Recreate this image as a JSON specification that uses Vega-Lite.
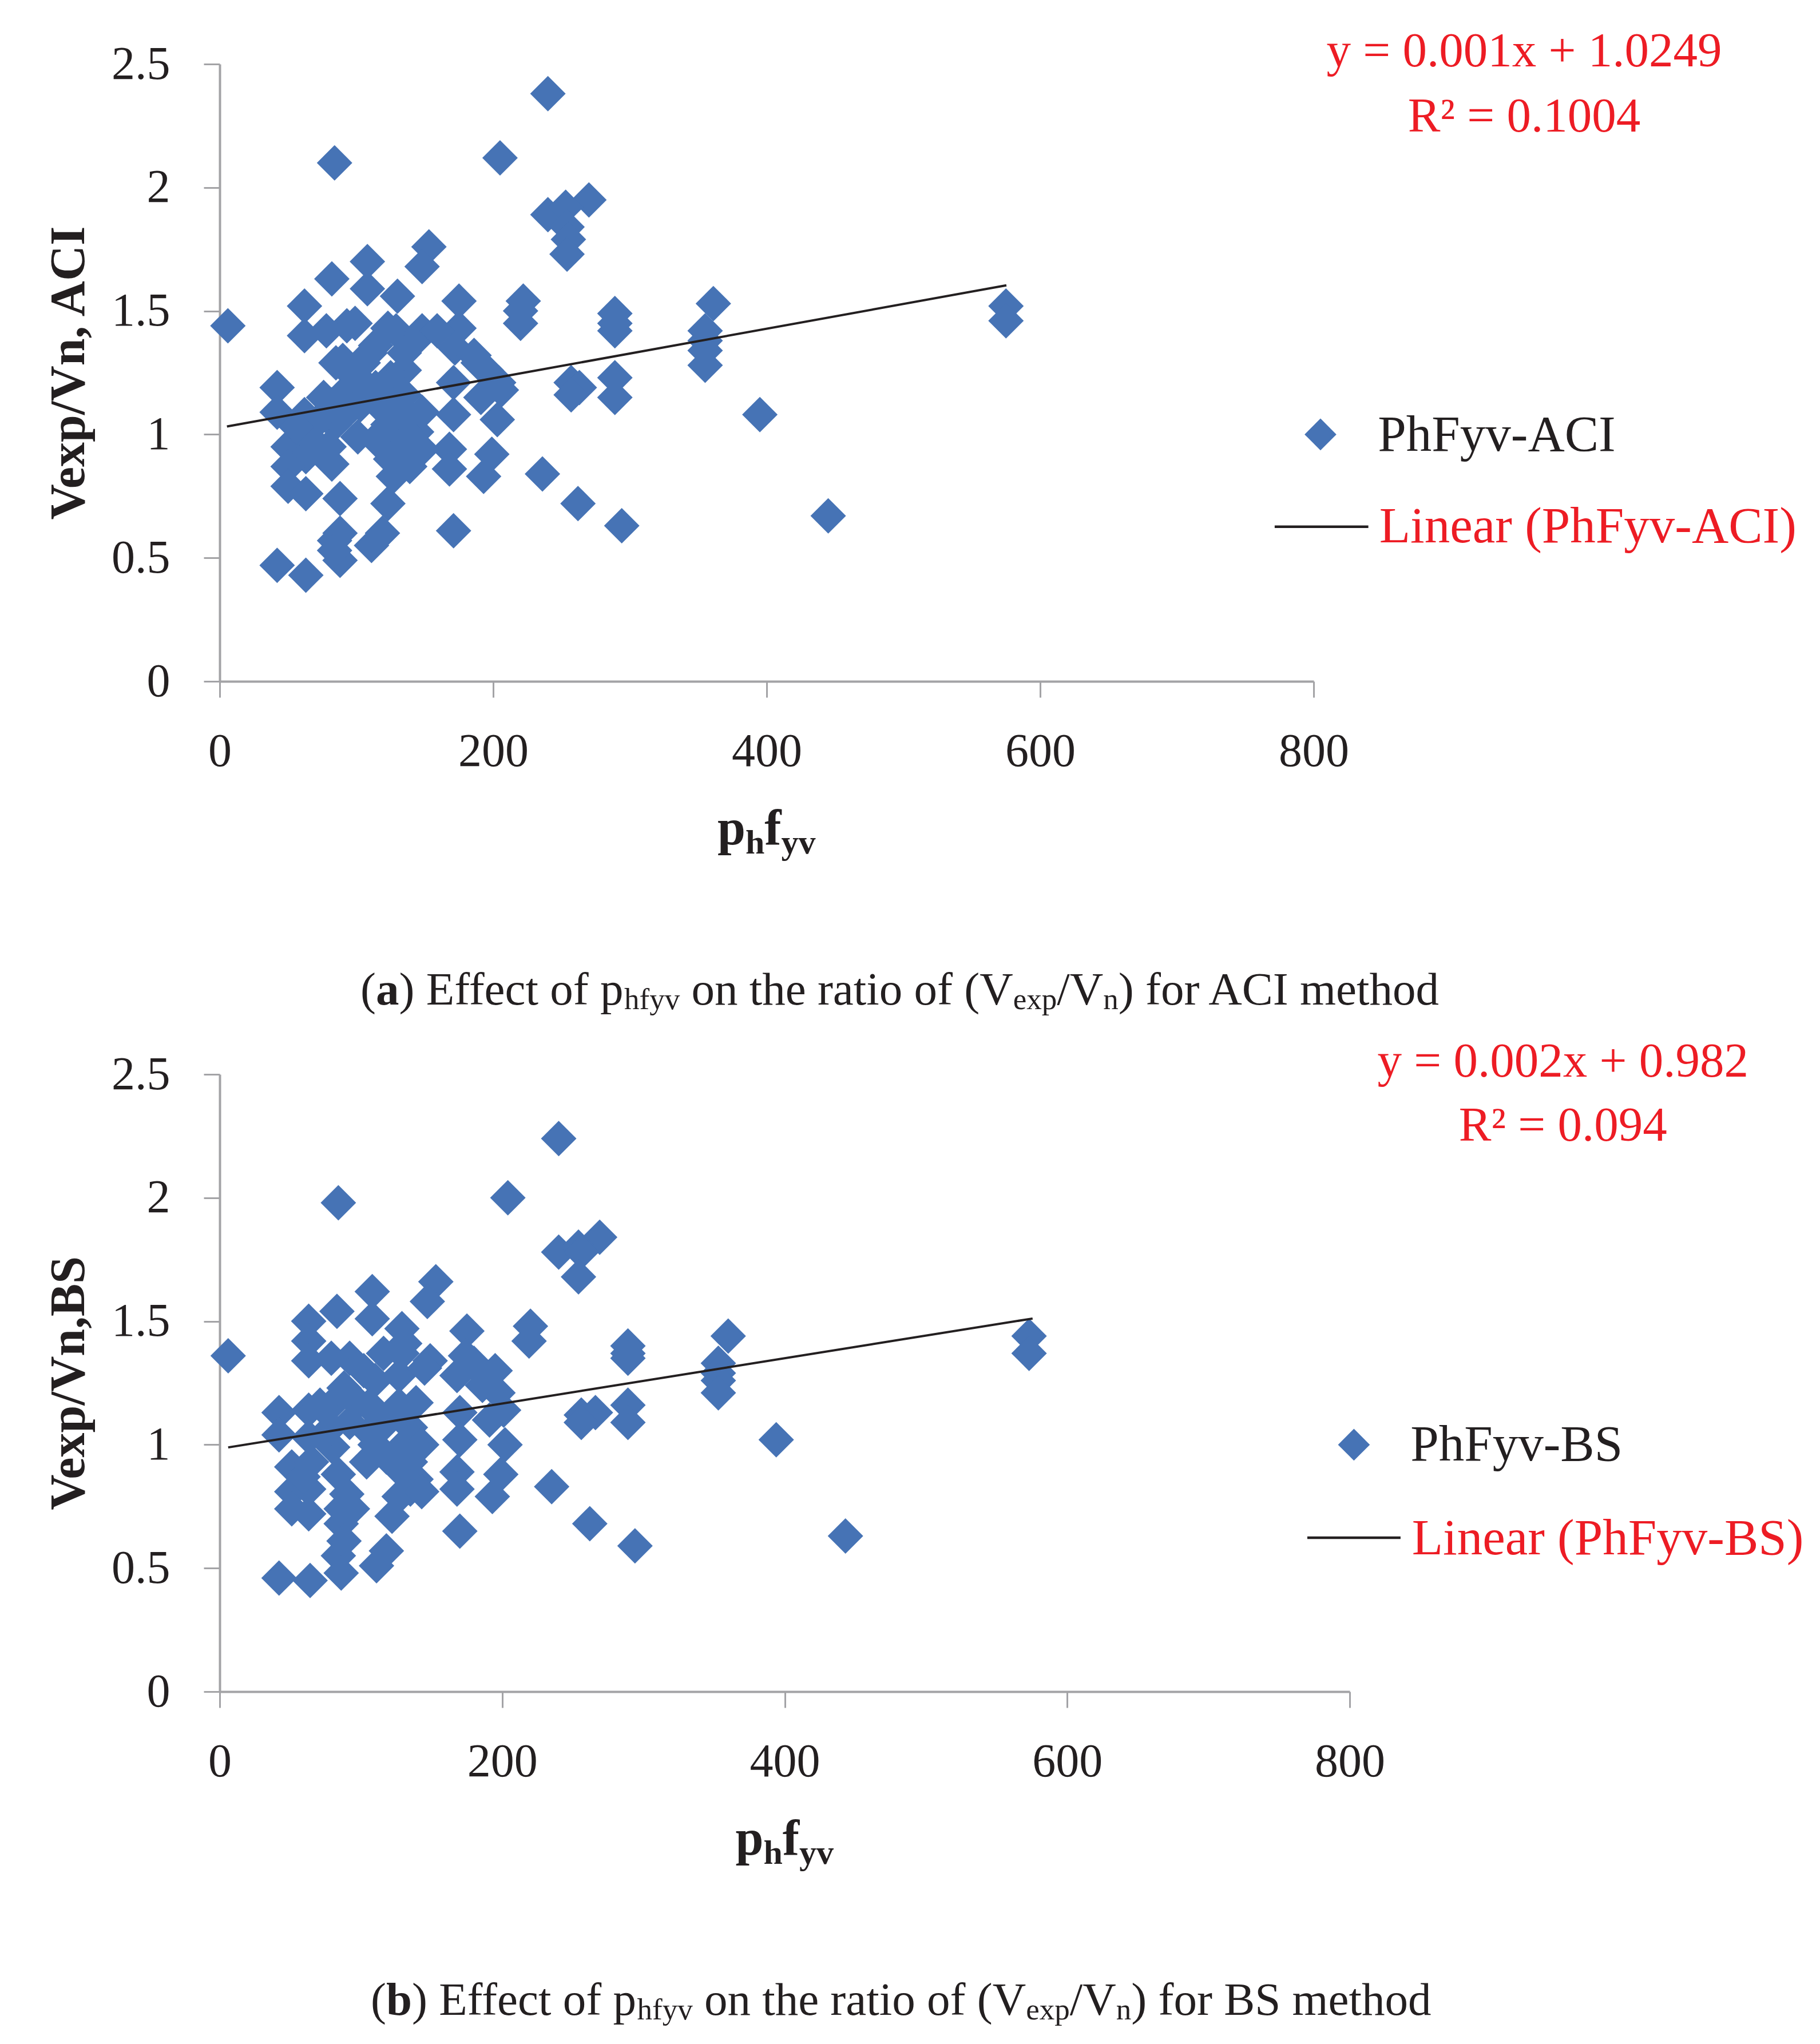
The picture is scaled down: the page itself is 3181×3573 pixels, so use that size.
{
  "$schema": "https://vega.github.io/schema/vega-lite/v6.json",
  "background": "white",
  "padding": {"left": 76, "top": 47, "right": 10, "bottom": 10},
  "autosize": {"type": "pad"},
  "spacing": 687,
  "bounds": "flush",
  "config": {
    "view": {"stroke": null},
    "font": "Liberation Serif",
    "text": {"font": "Liberation Serif"},
    "axis": {
      "grid": false,
      "labelFont": "Liberation Serif",
      "labelFontSize": 82,
      "labelColor": "#231F20",
      "labelFlush": false,
      "labelOverlap": false,
      "domainColor": "#A3A3A6",
      "domainWidth": 4,
      "tickColor": "#A3A3A6",
      "tickWidth": 3,
      "tickSize": 28,
      "titleFont": "Liberation Serif",
      "titleFontSize": 86,
      "titleFontWeight": "bold",
      "titleColor": "#231F20"
    }
  },
  "datasets": {
    "aci": [
      {"phfyv": 6, "ratio": 1.44}, {"phfyv": 84, "ratio": 2.10}, {"phfyv": 240, "ratio": 2.38}, {"phfyv": 205, "ratio": 2.12},
      {"phfyv": 270, "ratio": 1.95}, {"phfyv": 240, "ratio": 1.89}, {"phfyv": 253, "ratio": 1.92}, {"phfyv": 254, "ratio": 1.84},
      {"phfyv": 255, "ratio": 1.79}, {"phfyv": 254, "ratio": 1.73}, {"phfyv": 153, "ratio": 1.76}, {"phfyv": 148, "ratio": 1.68},
      {"phfyv": 108, "ratio": 1.70}, {"phfyv": 108, "ratio": 1.59}, {"phfyv": 82, "ratio": 1.63}, {"phfyv": 62, "ratio": 1.52},
      {"phfyv": 62, "ratio": 1.40}, {"phfyv": 130, "ratio": 1.56}, {"phfyv": 175, "ratio": 1.54}, {"phfyv": 222, "ratio": 1.54},
      {"phfyv": 220, "ratio": 1.50}, {"phfyv": 220, "ratio": 1.45}, {"phfyv": 289, "ratio": 1.49}, {"phfyv": 289, "ratio": 1.45},
      {"phfyv": 289, "ratio": 1.42}, {"phfyv": 93, "ratio": 1.44}, {"phfyv": 78, "ratio": 1.42}, {"phfyv": 129, "ratio": 1.42},
      {"phfyv": 148, "ratio": 1.42}, {"phfyv": 175, "ratio": 1.43}, {"phfyv": 145, "ratio": 1.39}, {"phfyv": 85, "ratio": 1.29},
      {"phfyv": 110, "ratio": 1.33}, {"phfyv": 172, "ratio": 1.35}, {"phfyv": 186, "ratio": 1.32}, {"phfyv": 125, "ratio": 1.23},
      {"phfyv": 135, "ratio": 1.26}, {"phfyv": 195, "ratio": 1.26}, {"phfyv": 204, "ratio": 1.21}, {"phfyv": 257, "ratio": 1.21},
      {"phfyv": 263, "ratio": 1.19}, {"phfyv": 257, "ratio": 1.16}, {"phfyv": 289, "ratio": 1.23}, {"phfyv": 289, "ratio": 1.15},
      {"phfyv": 42, "ratio": 1.19}, {"phfyv": 42, "ratio": 1.09}, {"phfyv": 62, "ratio": 1.08}, {"phfyv": 76, "ratio": 1.15},
      {"phfyv": 93, "ratio": 1.18}, {"phfyv": 103, "ratio": 1.22}, {"phfyv": 116, "ratio": 1.12}, {"phfyv": 135, "ratio": 1.16},
      {"phfyv": 139, "ratio": 1.07}, {"phfyv": 171, "ratio": 1.21}, {"phfyv": 171, "ratio": 1.08}, {"phfyv": 191, "ratio": 1.15},
      {"phfyv": 203, "ratio": 1.06}, {"phfyv": 84, "ratio": 1.04}, {"phfyv": 101, "ratio": 0.99}, {"phfyv": 123, "ratio": 1.04},
      {"phfyv": 144, "ratio": 1.01}, {"phfyv": 50, "ratio": 0.95}, {"phfyv": 63, "ratio": 0.91}, {"phfyv": 50, "ratio": 0.87},
      {"phfyv": 82, "ratio": 0.88}, {"phfyv": 50, "ratio": 0.79}, {"phfyv": 63, "ratio": 0.76}, {"phfyv": 88, "ratio": 0.74},
      {"phfyv": 123, "ratio": 0.72}, {"phfyv": 135, "ratio": 0.94}, {"phfyv": 139, "ratio": 0.87}, {"phfyv": 127, "ratio": 0.83},
      {"phfyv": 168, "ratio": 0.94}, {"phfyv": 168, "ratio": 0.86}, {"phfyv": 199, "ratio": 0.92}, {"phfyv": 193, "ratio": 0.83},
      {"phfyv": 236, "ratio": 0.84}, {"phfyv": 262, "ratio": 0.72}, {"phfyv": 294, "ratio": 0.63}, {"phfyv": 171, "ratio": 0.61},
      {"phfyv": 88, "ratio": 0.60}, {"phfyv": 84, "ratio": 0.57}, {"phfyv": 88, "ratio": 0.49}, {"phfyv": 84, "ratio": 0.53},
      {"phfyv": 119, "ratio": 0.60}, {"phfyv": 111, "ratio": 0.55}, {"phfyv": 42, "ratio": 0.47}, {"phfyv": 63, "ratio": 0.43},
      {"phfyv": 99, "ratio": 1.45}, {"phfyv": 114, "ratio": 1.36}, {"phfyv": 105, "ratio": 1.29}, {"phfyv": 90, "ratio": 1.30},
      {"phfyv": 148, "ratio": 1.09}, {"phfyv": 135, "ratio": 1.09}, {"phfyv": 103, "ratio": 1.12}, {"phfyv": 71, "ratio": 1.05},
      {"phfyv": 148, "ratio": 0.94}, {"phfyv": 361, "ratio": 1.53}, {"phfyv": 355, "ratio": 1.42}, {"phfyv": 355, "ratio": 1.38},
      {"phfyv": 355, "ratio": 1.34}, {"phfyv": 355, "ratio": 1.28}, {"phfyv": 395, "ratio": 1.08}, {"phfyv": 445, "ratio": 0.67},
      {"phfyv": 575, "ratio": 1.52}, {"phfyv": 575, "ratio": 1.46}, {"phfyv": 97, "ratio": 1.24}, {"phfyv": 114, "ratio": 1.19},
      {"phfyv": 125, "ratio": 1.12}, {"phfyv": 133, "ratio": 1.05}, {"phfyv": 114, "ratio": 0.98}, {"phfyv": 131, "ratio": 0.95},
      {"phfyv": 140, "ratio": 0.91}, {"phfyv": 125, "ratio": 0.90}, {"phfyv": 82, "ratio": 1.12}, {"phfyv": 93, "ratio": 1.09},
      {"phfyv": 80, "ratio": 0.95}, {"phfyv": 67, "ratio": 0.98}, {"phfyv": 56, "ratio": 1.03}, {"phfyv": 135, "ratio": 1.33},
      {"phfyv": 123, "ratio": 1.43}, {"phfyv": 159, "ratio": 1.42}, {"phfyv": 189, "ratio": 1.29}, {"phfyv": 206, "ratio": 1.18}
    ],
    "bs": [
      {"phfyv": 6, "ratio": 1.36}, {"phfyv": 84, "ratio": 1.98}, {"phfyv": 240, "ratio": 2.24}, {"phfyv": 204, "ratio": 2.00},
      {"phfyv": 269, "ratio": 1.84}, {"phfyv": 240, "ratio": 1.78}, {"phfyv": 254, "ratio": 1.80}, {"phfyv": 256, "ratio": 1.78},
      {"phfyv": 254, "ratio": 1.68}, {"phfyv": 153, "ratio": 1.66}, {"phfyv": 147, "ratio": 1.58}, {"phfyv": 108, "ratio": 1.62},
      {"phfyv": 108, "ratio": 1.51}, {"phfyv": 83, "ratio": 1.54}, {"phfyv": 63, "ratio": 1.50}, {"phfyv": 63, "ratio": 1.42},
      {"phfyv": 63, "ratio": 1.34}, {"phfyv": 129, "ratio": 1.47}, {"phfyv": 175, "ratio": 1.46}, {"phfyv": 220, "ratio": 1.48},
      {"phfyv": 219, "ratio": 1.42}, {"phfyv": 289, "ratio": 1.40}, {"phfyv": 289, "ratio": 1.37}, {"phfyv": 289, "ratio": 1.35},
      {"phfyv": 92, "ratio": 1.35}, {"phfyv": 79, "ratio": 1.35}, {"phfyv": 129, "ratio": 1.37}, {"phfyv": 149, "ratio": 1.34},
      {"phfyv": 174, "ratio": 1.36}, {"phfyv": 102, "ratio": 1.30}, {"phfyv": 110, "ratio": 1.26}, {"phfyv": 88, "ratio": 1.23},
      {"phfyv": 127, "ratio": 1.28}, {"phfyv": 168, "ratio": 1.28}, {"phfyv": 188, "ratio": 1.28}, {"phfyv": 197, "ratio": 1.21},
      {"phfyv": 201, "ratio": 1.14}, {"phfyv": 256, "ratio": 1.12}, {"phfyv": 266, "ratio": 1.13}, {"phfyv": 256, "ratio": 1.09},
      {"phfyv": 289, "ratio": 1.16}, {"phfyv": 289, "ratio": 1.09}, {"phfyv": 42, "ratio": 1.13}, {"phfyv": 42, "ratio": 1.04},
      {"phfyv": 63, "ratio": 1.14}, {"phfyv": 63, "ratio": 1.03}, {"phfyv": 79, "ratio": 1.16}, {"phfyv": 98, "ratio": 1.17},
      {"phfyv": 112, "ratio": 1.12}, {"phfyv": 139, "ratio": 1.17}, {"phfyv": 135, "ratio": 1.07}, {"phfyv": 143, "ratio": 1.00},
      {"phfyv": 170, "ratio": 1.13}, {"phfyv": 170, "ratio": 1.02}, {"phfyv": 191, "ratio": 1.10}, {"phfyv": 202, "ratio": 1.00},
      {"phfyv": 80, "ratio": 0.99}, {"phfyv": 104, "ratio": 0.93}, {"phfyv": 118, "ratio": 0.95}, {"phfyv": 51, "ratio": 0.91},
      {"phfyv": 65, "ratio": 0.93}, {"phfyv": 84, "ratio": 0.88}, {"phfyv": 51, "ratio": 0.81}, {"phfyv": 63, "ratio": 0.82},
      {"phfyv": 51, "ratio": 0.74}, {"phfyv": 63, "ratio": 0.72}, {"phfyv": 86, "ratio": 0.68}, {"phfyv": 86, "ratio": 0.74},
      {"phfyv": 127, "ratio": 0.90}, {"phfyv": 139, "ratio": 0.86}, {"phfyv": 135, "ratio": 0.82}, {"phfyv": 122, "ratio": 0.71},
      {"phfyv": 168, "ratio": 0.89}, {"phfyv": 168, "ratio": 0.82}, {"phfyv": 199, "ratio": 0.88}, {"phfyv": 193, "ratio": 0.79},
      {"phfyv": 235, "ratio": 0.83}, {"phfyv": 262, "ratio": 0.68}, {"phfyv": 294, "ratio": 0.59}, {"phfyv": 170, "ratio": 0.65},
      {"phfyv": 88, "ratio": 0.61}, {"phfyv": 84, "ratio": 0.55}, {"phfyv": 86, "ratio": 0.48}, {"phfyv": 118, "ratio": 0.57},
      {"phfyv": 111, "ratio": 0.51}, {"phfyv": 42, "ratio": 0.46}, {"phfyv": 64, "ratio": 0.45}, {"phfyv": 92, "ratio": 1.09},
      {"phfyv": 106, "ratio": 1.05}, {"phfyv": 360, "ratio": 1.44}, {"phfyv": 353, "ratio": 1.33}, {"phfyv": 353, "ratio": 1.29},
      {"phfyv": 353, "ratio": 1.26}, {"phfyv": 353, "ratio": 1.21}, {"phfyv": 394, "ratio": 1.02}, {"phfyv": 443, "ratio": 0.63},
      {"phfyv": 573, "ratio": 1.44}, {"phfyv": 573, "ratio": 1.37}, {"phfyv": 90, "ratio": 1.21}, {"phfyv": 106, "ratio": 1.16},
      {"phfyv": 118, "ratio": 1.09}, {"phfyv": 127, "ratio": 1.16}, {"phfyv": 110, "ratio": 1.00}, {"phfyv": 127, "ratio": 0.98},
      {"phfyv": 135, "ratio": 0.93}, {"phfyv": 71, "ratio": 1.16}, {"phfyv": 79, "ratio": 1.07}, {"phfyv": 59, "ratio": 0.87},
      {"phfyv": 90, "ratio": 0.80}, {"phfyv": 94, "ratio": 0.74}, {"phfyv": 127, "ratio": 0.79}, {"phfyv": 143, "ratio": 0.81},
      {"phfyv": 116, "ratio": 1.37}, {"phfyv": 131, "ratio": 1.41}, {"phfyv": 145, "ratio": 1.31}, {"phfyv": 180, "ratio": 1.33},
      {"phfyv": 186, "ratio": 1.24}, {"phfyv": 195, "ratio": 1.30}
    ],
    "trendAci": [{"phfyv": 5.3, "ratio": 1.032}, {"phfyv": 575.3, "ratio": 1.604}],
    "trendBs": [{"phfyv": 6, "ratio": 0.989}, {"phfyv": 575.5, "ratio": 1.511}],
    "one": [{}]
  },
  "vconcat": [
    {
      "width": 1912,
      "height": 1079,
      "layer": [
        {
          "data": {"name": "aci"},
          "mark": {"type": "point", "shape": "diamond", "filled": true, "size": 3844, "color": "#4673B5", "opacity": 1},
          "encoding": {
            "x": {"field": "phfyv", "type": "quantitative", "scale": {"domain": [0, 800], "nice": false},
                  "axis": {"values": [0, 200, 400, 600, 800], "format": "d", "title": null, "labelPadding": 54}},
            "y": {"field": "ratio", "type": "quantitative", "scale": {"domain": [0, 2.5], "nice": false},
                  "axis": {"values": [0, 0.5, 1, 1.5, 2, 2.5], "format": "~g", "title": "Vexp/Vn, ACI", "labelPadding": 59,
                           "titleX": -264, "titleY": 539.5, "titleAngle": -90, "titleBaseline": "middle", "titleAlign": "center"}}
          }
        },
        {
          "data": {"name": "trendAci"},
          "mark": {"type": "line", "color": "#231F20", "strokeWidth": 4},
          "encoding": {"x": {"field": "phfyv", "type": "quantitative"}, "y": {"field": "ratio", "type": "quantitative"}}
        },
        {"data": {"name": "one"}, "mark": {"type": "text", "text": "y = 0.001x + 1.0249", "align": "center", "baseline": "alphabetic", "fontSize": 85, "color": "#ED1C24"},
         "encoding": {"x": {"datum": 954}, "y": {"datum": 2.491}}},
        {"data": {"name": "one"}, "mark": {"type": "text", "text": "R² = 0.1004", "align": "center", "baseline": "alphabetic", "fontSize": 85, "color": "#ED1C24"},
         "encoding": {"x": {"datum": 954}, "y": {"datum": 2.227}}},
        {"data": {"name": "one"}, "mark": {"type": "point", "shape": "diamond", "filled": true, "size": 3100, "color": "#4673B5", "opacity": 1},
         "encoding": {"x": {"datum": 805}, "y": {"datum": 1.0}}},
        {"data": {"name": "one"}, "mark": {"type": "text", "text": "PhFyv-ACI", "align": "left", "baseline": "alphabetic", "fontSize": 89, "color": "#231F20"},
         "encoding": {"x": {"datum": 847}, "y": {"datum": 0.933}}},
        {"data": {"name": "one"}, "mark": {"type": "rule", "color": "#231F20", "strokeWidth": 4.5},
         "encoding": {"x": {"datum": 771.5}, "x2": {"datum": 840}, "y": {"datum": 0.626}}},
        {"data": {"name": "one"}, "mark": {"type": "text", "text": "Linear (PhFyv-ACI)", "align": "left", "baseline": "alphabetic", "fontSize": 89, "color": "#ED1C24"},
         "encoding": {"x": {"datum": 848}, "y": {"datum": 0.563}}},
        {"data": {"name": "one"}, "mark": {"type": "text", "text": "p", "align": "left", "baseline": "alphabetic", "fontSize": 88, "fontWeight": "bold", "color": "#231F20", "dx": -86},
         "encoding": {"x": {"datum": 400}, "y": {"datum": -0.66}}},
        {"data": {"name": "one"}, "mark": {"type": "text", "text": "h", "align": "left", "baseline": "alphabetic", "fontSize": 60, "fontWeight": "bold", "color": "#231F20", "dx": -37.1, "dy": 16},
         "encoding": {"x": {"datum": 400}, "y": {"datum": -0.66}}},
        {"data": {"name": "one"}, "mark": {"type": "text", "text": "f", "align": "left", "baseline": "alphabetic", "fontSize": 88, "fontWeight": "bold", "color": "#231F20", "dx": -3.7},
         "encoding": {"x": {"datum": 400}, "y": {"datum": -0.66}}},
        {"data": {"name": "one"}, "mark": {"type": "text", "text": "yv", "align": "left", "baseline": "alphabetic", "fontSize": 60, "fontWeight": "bold", "color": "#231F20", "dx": 25.6, "dy": 16},
         "encoding": {"x": {"datum": 400}, "y": {"datum": -0.66}}},
        {"data": {"name": "one"}, "mark": {"type": "text", "text": "(", "align": "left", "baseline": "alphabetic", "fontSize": 81, "color": "#231F20", "dx": 0},
         "encoding": {"x": {"datum": 102.9}, "y": {"datum": -1.31}}},
        {"data": {"name": "one"}, "mark": {"type": "text", "text": "a", "align": "left", "baseline": "alphabetic", "fontSize": 81, "fontWeight": "bold", "color": "#231F20", "dx": 27},
         "encoding": {"x": {"datum": 102.9}, "y": {"datum": -1.31}}},
        {"data": {"name": "one"}, "mark": {"type": "text", "text": ") Effect of p", "align": "left", "baseline": "alphabetic", "fontSize": 81, "color": "#231F20", "dx": 67.5},
         "encoding": {"x": {"datum": 102.9}, "y": {"datum": -1.31}}},
        {"data": {"name": "one"}, "mark": {"type": "text", "text": "hfyv", "align": "left", "baseline": "alphabetic", "fontSize": 53, "color": "#231F20", "dx": 461.1, "dy": 8},
         "encoding": {"x": {"datum": 102.9}, "y": {"datum": -1.31}}},
        {"data": {"name": "one"}, "mark": {"type": "text", "text": "on the ratio of (V", "align": "left", "baseline": "alphabetic", "fontSize": 81, "color": "#231F20", "dx": 578.5},
         "encoding": {"x": {"datum": 102.9}, "y": {"datum": -1.31}}},
        {"data": {"name": "one"}, "mark": {"type": "text", "text": "exp", "align": "left", "baseline": "alphabetic", "fontSize": 53, "color": "#231F20", "dx": 1140.8, "dy": 8},
         "encoding": {"x": {"datum": 102.9}, "y": {"datum": -1.31}}},
        {"data": {"name": "one"}, "mark": {"type": "text", "text": "/V", "align": "left", "baseline": "alphabetic", "fontSize": 81, "color": "#231F20", "dx": 1217.3},
         "encoding": {"x": {"datum": 102.9}, "y": {"datum": -1.31}}},
        {"data": {"name": "one"}, "mark": {"type": "text", "text": "n", "align": "left", "baseline": "alphabetic", "fontSize": 53, "color": "#231F20", "dx": 1298.3, "dy": 8},
         "encoding": {"x": {"datum": 102.9}, "y": {"datum": -1.31}}},
        {"data": {"name": "one"}, "mark": {"type": "text", "text": ") for ACI method", "align": "left", "baseline": "alphabetic", "fontSize": 81, "color": "#231F20", "dx": 1324.8},
         "encoding": {"x": {"datum": 102.9}, "y": {"datum": -1.31}}}
      ]
    },
    {
      "width": 1975,
      "height": 1079,
      "layer": [
        {
          "data": {"name": "bs"},
          "mark": {"type": "point", "shape": "diamond", "filled": true, "size": 3844, "color": "#4673B5", "opacity": 1},
          "encoding": {
            "x": {"field": "phfyv", "type": "quantitative", "scale": {"domain": [0, 800], "nice": false},
                  "axis": {"values": [0, 200, 400, 600, 800], "format": "d", "title": null, "labelPadding": 54}},
            "y": {"field": "ratio", "type": "quantitative", "scale": {"domain": [0, 2.5], "nice": false},
                  "axis": {"values": [0, 0.5, 1, 1.5, 2, 2.5], "format": "~g", "title": "Vexp/Vn,BS", "labelPadding": 59,
                           "titleX": -264, "titleY": 539.5, "titleAngle": -90, "titleBaseline": "middle", "titleAlign": "center"}}
          }
        },
        {
          "data": {"name": "trendBs"},
          "mark": {"type": "line", "color": "#231F20", "strokeWidth": 4},
          "encoding": {"x": {"field": "phfyv", "type": "quantitative"}, "y": {"field": "ratio", "type": "quantitative"}}
        },
        {"data": {"name": "one"}, "mark": {"type": "text", "text": "y = 0.002x + 0.982", "align": "center", "baseline": "alphabetic", "fontSize": 85, "color": "#ED1C24"},
         "encoding": {"x": {"datum": 951}, "y": {"datum": 2.491}}},
        {"data": {"name": "one"}, "mark": {"type": "text", "text": "R² = 0.094", "align": "center", "baseline": "alphabetic", "fontSize": 85, "color": "#ED1C24"},
         "encoding": {"x": {"datum": 951}, "y": {"datum": 2.231}}},
        {"data": {"name": "one"}, "mark": {"type": "point", "shape": "diamond", "filled": true, "size": 3100, "color": "#4673B5", "opacity": 1},
         "encoding": {"x": {"datum": 803}, "y": {"datum": 1.0}}},
        {"data": {"name": "one"}, "mark": {"type": "text", "text": "PhFyv-BS", "align": "left", "baseline": "alphabetic", "fontSize": 89, "color": "#231F20"},
         "encoding": {"x": {"datum": 843}, "y": {"datum": 0.936}}},
        {"data": {"name": "one"}, "mark": {"type": "rule", "color": "#231F20", "strokeWidth": 4.5},
         "encoding": {"x": {"datum": 770}, "x2": {"datum": 836}, "y": {"datum": 0.623}}},
        {"data": {"name": "one"}, "mark": {"type": "text", "text": "Linear (PhFyv-BS)", "align": "left", "baseline": "alphabetic", "fontSize": 89, "color": "#ED1C24"},
         "encoding": {"x": {"datum": 844}, "y": {"datum": 0.556}}},
        {"data": {"name": "one"}, "mark": {"type": "text", "text": "p", "align": "left", "baseline": "alphabetic", "fontSize": 88, "fontWeight": "bold", "color": "#231F20", "dx": -86},
         "encoding": {"x": {"datum": 400}, "y": {"datum": -0.66}}},
        {"data": {"name": "one"}, "mark": {"type": "text", "text": "h", "align": "left", "baseline": "alphabetic", "fontSize": 60, "fontWeight": "bold", "color": "#231F20", "dx": -37.1, "dy": 16},
         "encoding": {"x": {"datum": 400}, "y": {"datum": -0.66}}},
        {"data": {"name": "one"}, "mark": {"type": "text", "text": "f", "align": "left", "baseline": "alphabetic", "fontSize": 88, "fontWeight": "bold", "color": "#231F20", "dx": -3.7},
         "encoding": {"x": {"datum": 400}, "y": {"datum": -0.66}}},
        {"data": {"name": "one"}, "mark": {"type": "text", "text": "yv", "align": "left", "baseline": "alphabetic", "fontSize": 60, "fontWeight": "bold", "color": "#231F20", "dx": 25.6, "dy": 16},
         "encoding": {"x": {"datum": 400}, "y": {"datum": -0.66}}},
        {"data": {"name": "one"}, "mark": {"type": "text", "text": "(", "align": "left", "baseline": "alphabetic", "fontSize": 81, "color": "#231F20", "dx": 0},
         "encoding": {"x": {"datum": 106.9}, "y": {"datum": -1.31}}},
        {"data": {"name": "one"}, "mark": {"type": "text", "text": "b", "align": "left", "baseline": "alphabetic", "fontSize": 81, "fontWeight": "bold", "color": "#231F20", "dx": 27},
         "encoding": {"x": {"datum": 106.9}, "y": {"datum": -1.31}}},
        {"data": {"name": "one"}, "mark": {"type": "text", "text": ") Effect of p", "align": "left", "baseline": "alphabetic", "fontSize": 81, "color": "#231F20", "dx": 72},
         "encoding": {"x": {"datum": 106.9}, "y": {"datum": -1.31}}},
        {"data": {"name": "one"}, "mark": {"type": "text", "text": "hfyv", "align": "left", "baseline": "alphabetic", "fontSize": 53, "color": "#231F20", "dx": 465.6, "dy": 8},
         "encoding": {"x": {"datum": 106.9}, "y": {"datum": -1.31}}},
        {"data": {"name": "one"}, "mark": {"type": "text", "text": "on the ratio of (V", "align": "left", "baseline": "alphabetic", "fontSize": 81, "color": "#231F20", "dx": 583},
         "encoding": {"x": {"datum": 106.9}, "y": {"datum": -1.31}}},
        {"data": {"name": "one"}, "mark": {"type": "text", "text": "exp", "align": "left", "baseline": "alphabetic", "fontSize": 53, "color": "#231F20", "dx": 1145.4, "dy": 8},
         "encoding": {"x": {"datum": 106.9}, "y": {"datum": -1.31}}},
        {"data": {"name": "one"}, "mark": {"type": "text", "text": "/V", "align": "left", "baseline": "alphabetic", "fontSize": 81, "color": "#231F20", "dx": 1221.9},
         "encoding": {"x": {"datum": 106.9}, "y": {"datum": -1.31}}},
        {"data": {"name": "one"}, "mark": {"type": "text", "text": "n", "align": "left", "baseline": "alphabetic", "fontSize": 53, "color": "#231F20", "dx": 1302.9, "dy": 8},
         "encoding": {"x": {"datum": 106.9}, "y": {"datum": -1.31}}},
        {"data": {"name": "one"}, "mark": {"type": "text", "text": ") for BS method", "align": "left", "baseline": "alphabetic", "fontSize": 81, "color": "#231F20", "dx": 1329.4},
         "encoding": {"x": {"datum": 106.9}, "y": {"datum": -1.31}}}
      ]
    }
  ]
}
